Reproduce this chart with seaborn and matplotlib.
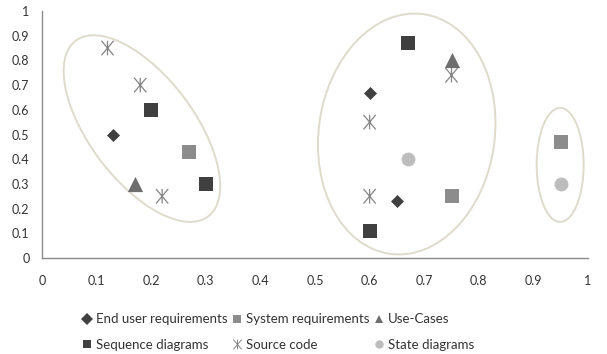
import numpy as np
import pandas as pd
import matplotlib
matplotlib.use("Agg")
import matplotlib.pyplot as plt
import matplotlib.transforms as mtransforms
from matplotlib.patches import Ellipse
from matplotlib.path import Path
from matplotlib.lines import Line2D
import seaborn as sns

sns.set_theme(style="white")
plt.rcParams["font.family"] = ["Lato", "DejaVu Sans"]

# ---- data ----
series_names = ["End user requirements", "System requirements", "Use-Cases",
                "Sequence diagrams", "Source code", "State diagrams"]
end_user_x = [0.13, 0.60, 0.65]
end_user_y = [0.50, 0.67, 0.23]
system_req_x = [0.27, 0.75, 0.95]
system_req_y = [0.43, 0.25, 0.47]
use_cases_x = [0.17, 0.75]
use_cases_y = [0.30, 0.80]
sequence_x = [0.20, 0.30, 0.67, 0.60]
sequence_y = [0.60, 0.30, 0.87, 0.11]
source_x = [0.12, 0.18, 0.22, 0.60, 0.60, 0.75]
source_y = [0.85, 0.70, 0.25, 0.55, 0.25, 0.74]
state_x = [0.67, 0.95]
state_y = [0.40, 0.30]
tick_values = [0, 0.1, 0.2, 0.3, 0.4, 0.5, 0.6, 0.7, 0.8, 0.9, 1]
tick_labels = ["0", "0.1", "0.2", "0.3", "0.4", "0.5", "0.6", "0.7", "0.8", "0.9", "1"]

# asterisk marker: vertical line + X
star_path = Path(
    [(0, -0.5), (0, 0.5), (-0.42, -0.5), (0.42, 0.5), (-0.42, 0.5), (0.42, -0.5)],
    [Path.MOVETO, Path.LINETO, Path.MOVETO, Path.LINETO, Path.MOVETO, Path.LINETO],
)

styles = {
    "End user requirements": dict(marker="D", color="#404040", s=44),
    "System requirements": dict(marker="s", color="#8c8c8c", s=96),
    "Use-Cases": dict(marker="^", color="#6e6e6e", s=120),
    "Sequence diagrams": dict(marker="s", color="#404040", s=96),
    "Source code": dict(marker=star_path, color="#858585", s=110),
    "State diagrams": dict(marker="o", color="#bdbdbd", s=100),
}
data = {
    "End user requirements": (end_user_x, end_user_y),
    "System requirements": (system_req_x, system_req_y),
    "Use-Cases": (use_cases_x, use_cases_y),
    "Sequence diagrams": (sequence_x, sequence_y),
    "Source code": (source_x, source_y),
    "State diagrams": (state_x, state_y),
}

fig = plt.figure(figsize=(6.07, 3.54), dpi=100)
ax = fig.add_axes([42 / 607, 1 - 258 / 354, 546 / 607, 247 / 354])
ax.set_xlim(0, 1)
ax.set_ylim(0, 1)

handles = {}
for name in series_names:
    xs, ys = data[name]
    st = styles[name]
    df = pd.DataFrame({"x": xs, "y": ys})
    if st["marker"] is star_path:
        sns.scatterplot(data=df, x="x", y="y", marker=star_path, s=st["s"],
                        facecolors="none", edgecolor=st["color"], linewidth=0.9,
                        ax=ax, zorder=3)
        handles[name] = Line2D([], [], marker=star_path, color=st["color"],
                               linestyle="none", markersize=7, markeredgewidth=0.7)
    else:
        sns.scatterplot(data=df, x="x", y="y", marker=st["marker"], s=st["s"],
                        color=st["color"], linewidth=0, ax=ax, zorder=3)
        handles[name] = Line2D([], [], marker=st["marker"], color=st["color"],
                               markeredgewidth=0, linestyle="none", markersize=6)

# cluster ellipses (center in data coords, size in pixels)
ellipses = [
    ((0.183, 0.524), 104.6, 220, 37),
    ((0.668, 0.502), 176, 242, -8),
    ((0.949, 0.377), 47, 114, 0),
]
for (cx, cy), w, h, ang in ellipses:
    tr = fig.dpi_scale_trans + mtransforms.ScaledTranslation(cx, cy, ax.transData)
    e = Ellipse((0, 0), w / 100, h / 100, angle=ang, transform=tr,
                fill=False, edgecolor="#dedbcb", linewidth=1.4, zorder=2)
    ax.add_artist(e)

ax.set_xticks(tick_values)
ax.set_xticklabels(tick_labels)
ax.set_yticks(tick_values)
ax.set_yticklabels(tick_labels)
ax.tick_params(axis="both", length=0, labelsize=9, colors="#333333")
ax.tick_params(axis="x", pad=12)
ax.tick_params(axis="y", pad=9)
ax.set_xlabel("")
ax.set_ylabel("")
for sp in ["top", "right"]:
    ax.spines[sp].set_visible(False)
for sp in ["left", "bottom"]:
    ax.spines[sp].set_color("#8a8a8a")
    ax.spines[sp].set_linewidth(1.0)
ax.grid(False)

order = ["End user requirements", "Sequence diagrams", "System requirements",
         "Source code", "Use-Cases", "State diagrams"]
leg = fig.legend([handles[n] for n in order], order, ncol=3,
                 loc="center left", bbox_to_anchor=(76 / 607, 1 - 332 / 354),
                 frameon=False, fontsize=9.5, handlelength=0.8, handletextpad=0.3,
                 columnspacing=0.3, labelspacing=1.0, borderaxespad=0)
for t in leg.get_texts():
    t.set_color("#333333")

fig.savefig("out.png", dpi=100)
